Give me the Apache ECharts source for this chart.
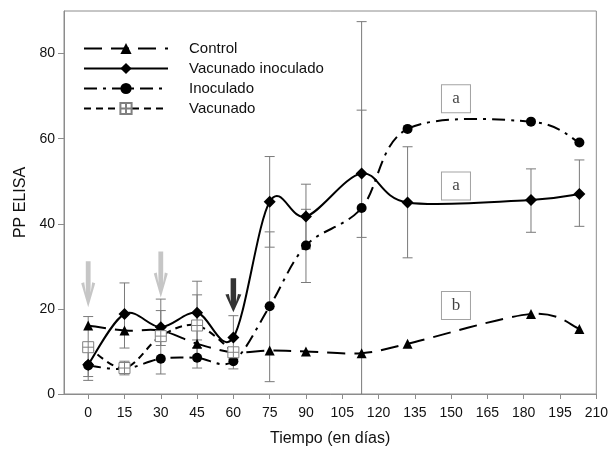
<!DOCTYPE html>
<html>
<head>
<meta charset="utf-8">
<script src="https://cdn.jsdelivr.net/npm/echarts@6/dist/echarts.min.js"></script>
<style>
  html, body { margin: 0; padding: 0; background: #fff; }
  #chart { width: 611px; height: 455px; }
</style>
</head>
<body>
<div id="chart"></div>
<script>
// días de muestreo
var days = [0, 15, 30, 45, 60, 75, 90, 113, 132, 183, 203];
var xTicks = [0, 15, 30, 45, 60, 75, 90, 105, 120, 135, 150, 165, 180, 195, 210];
var yTicks = [0, 20, 40, 60, 80];

// PP ELISA por grupo
var control        = [16.1, 14.9, 14.9, 11.8, 9.8, 10.2, 10.0, 9.6, 11.8, 18.8, 15.3];
var vacInoculado   = [6.9, 18.8, 15.7, 19.1, 13.3, 45.2, 41.7, 51.8, 45.0, 45.6, 47.0];
var inoculado      = [6.7, 5.9, 8.3, 8.5, 7.7, 20.6, 34.9, 43.7, 62.3, 64.0, 59.1];
var vacunado       = [11.0, 6.1, 13.6, 16.1, 9.8];

// barras de error [día, mínimo, máximo]
var vacInoculadoErr = [[0, 3.2, 10.5], [15, 10.8, 26.1], [30, 11.4, 19.6], [45, 12.7, 26.5], [60, 8.2, 18.4],
  [75, 34.5, 55.8], [90, 34.1, 49.3], [113, 36.8, 66.7], [132, 32.0, 58.1], [183, 38.0, 52.9], [203, 39.4, 55.0]];
var inoculadoErr = [[45, 6.1, 10.9], [60, 5.9, 9.5], [75, 2.9, 38.1], [90, 26.2, 43.4], [113, -0.5, 87.5]];
var vacunadoErr  = [[0, 4.1, 18.2], [15, 4.5, 7.7], [30, 4.7, 22.3], [45, 8.9, 23.3]];

// flechas (día, punta) y letras de significancia
var grayArrows  = [[0, 20.4], [30, 22.7]];
var blackArrows = [[60, 19.2]];
var letters     = [[152, 69.4, 'a'], [152, 48.9, 'a'], [152, 20.8, 'b']];

function zip(xs, ys) {
  return ys.map(function (y, i) { return [xs[i], y]; });
}

function renderErr(params, api) {
  var x = api.value(0);
  var lo = api.coord([x, api.value(1)]);
  var hi = api.coord([x, api.value(2)]);
  var w = 5;
  var st = { stroke: '#7a7a7a', lineWidth: 1 };
  return {
    type: 'group',
    children: [
      { type: 'line', shape: { x1: lo[0], y1: lo[1], x2: hi[0], y2: hi[1] }, style: st },
      { type: 'line', shape: { x1: lo[0] - w, y1: lo[1], x2: lo[0] + w, y2: lo[1] }, style: st },
      { type: 'line', shape: { x1: hi[0] - w, y1: hi[1], x2: hi[0] + w, y2: hi[1] }, style: st }
    ]
  };
}

function errSeries(data) {
  return { type: 'custom', renderItem: renderErr, data: data, clip: true, z: 1, silent: true };
}

// curva suavizada tipo Excel (Catmull-Rom) trazada con las coordenadas del eje
function curveSeries(values, dash) {
  var pts = zip(days, values);
  return {
    type: 'custom', data: pts, z: 2, silent: true,
    renderItem: function (params, api) {
      if (params.dataIndex !== 0) return null;
      var p = pts.map(function (d) { return api.coord(d); });
      var n = p.length;
      var d = 'M' + p[0][0] + ',' + p[0][1];
      for (var i = 0; i < n - 1; i++) {
        var p0 = p[Math.max(i - 1, 0)], p1 = p[i], p2 = p[i + 1], p3 = p[Math.min(i + 2, n - 1)];
        var c1x = p1[0] + (p2[0] - p0[0]) / 6, c1y = p1[1] + (p2[1] - p0[1]) / 6;
        var c2x = p2[0] - (p3[0] - p1[0]) / 6, c2y = p2[1] - (p3[1] - p1[1]) / 6;
        d += ' C' + c1x + ',' + c1y + ' ' + c2x + ',' + c2y + ' ' + p2[0] + ',' + p2[1];
      }
      return {
        type: 'path',
        shape: { pathData: d },
        style: { fill: null, stroke: '#000', lineWidth: 2, lineDash: dash }
      };
    }
  };
}

var squareIcon = 'path://M0,0L10,0L10,10L0,10Z M5,0L5,10 M0,5L10,5';
var arrowIcon = 'path://M4.6,0L9.4,0L9.4,33L11,22L14,23L7,48L0,23L3,22L4.6,33Z';

var chart = echarts.init(document.getElementById('chart'));
var option = {
  animation: false,
  textStyle: { fontFamily: 'Liberation Sans, Arial, sans-serif' },
  grid: { left: 64, right: 14, top: 11, bottom: 61, show: true, borderColor: '#8c8c8c', borderWidth: 1 },
  legend: {
    data: ['Control', 'Vacunado inoculado', 'Inoculado', 'Vacunado'],
    orient: 'vertical',
    left: 83, top: 41, padding: 0,
    itemWidth: 84, itemHeight: 14, itemGap: 5,
    lineStyle: { opacity: 1 },
    textStyle: { fontSize: 15, color: '#111', padding: [0, 0, 0, 16] }
  },
  xAxis: {
    type: 'value', min: -10, max: 210,
    name: 'Tiempo (en días)', nameLocation: 'middle', nameGap: 37,
    nameTextStyle: { fontSize: 16, color: '#111' },
    axisLine: { onZero: false, lineStyle: { color: '#8c8c8c' } },
    axisTick: { customValues: xTicks, length: 5, lineStyle: { color: '#8c8c8c' } },
    axisLabel: { customValues: xTicks, fontSize: 14, color: '#111', margin: 12 },
    splitLine: { show: false }
  },
  yAxis: {
    type: 'value', min: 0, max: 90,
    name: 'PP ELISA', nameLocation: 'middle', nameGap: 34,
    nameTextStyle: { fontSize: 16, color: '#111' },
    axisLine: { show: true, onZero: false, lineStyle: { color: '#8c8c8c' } },
    axisTick: { show: true, customValues: yTicks, length: 6, lineStyle: { color: '#8c8c8c' } },
    axisLabel: { customValues: yTicks, fontSize: 14, color: '#111', margin: 9 },
    splitLine: { show: false }
  },
  series: [
    errSeries(vacInoculadoErr),
    errSeries(inoculadoErr),
    errSeries(vacunadoErr),
    curveSeries(control, [18, 9]),
    curveSeries(vacInoculado, null),
    curveSeries(inoculado, [13, 6, 3, 6]),
    curveSeries(vacunado, [7, 5]),
    {
      name: 'Control', type: 'line', data: zip(days, control), z: 3,
      symbol: 'triangle', symbolSize: 10,
      lineStyle: { color: '#000', width: 2, type: [18, 9], opacity: 0 },
      itemStyle: { color: '#000' }
    },
    {
      name: 'Vacunado inoculado', type: 'line', data: zip(days, vacInoculado), z: 3,
      symbol: 'diamond', symbolSize: 12,
      lineStyle: { color: '#000', width: 2, opacity: 0 },
      itemStyle: { color: '#000' }
    },
    {
      name: 'Inoculado', type: 'line', data: zip(days, inoculado), z: 3,
      symbol: 'circle', symbolSize: 10,
      lineStyle: { color: '#000', width: 2, type: [13, 6, 3, 6], opacity: 0 },
      itemStyle: { color: '#000' }
    },
    {
      name: 'Vacunado', type: 'line', data: zip(days, vacunado), z: 4,
      symbol: squareIcon, symbolSize: 11,
      lineStyle: { color: '#000', width: 2, type: [7, 5], opacity: 0 },
      itemStyle: { color: '#fff', borderColor: '#808080', borderWidth: 1 }
    },
    {
      type: 'scatter', data: grayArrows, z: 5, silent: true,
      symbol: arrowIcon, symbolSize: [14, 46], symbolOffset: [0, '-50%'],
      itemStyle: { color: '#b8b8b8' }
    },
    {
      type: 'scatter', data: blackArrows, z: 5, silent: true,
      symbol: arrowIcon, symbolSize: [16, 34], symbolOffset: [0, '-50%'],
      itemStyle: { color: '#000' }
    },
    {
      type: 'scatter', data: letters, z: 5, silent: true,
      symbol: 'rect', symbolSize: [29, 28],
      itemStyle: { color: '#fff', borderColor: '#8c8c8c', borderWidth: 1 },
      label: {
        show: true, position: 'inside',
        formatter: function (p) { return p.value[2]; },
        fontFamily: 'Liberation Serif, Times New Roman, serif', fontSize: 17, color: '#111'
      }
    }
  ]
};
chart.setOption(option);
</script>
</body>
</html>
